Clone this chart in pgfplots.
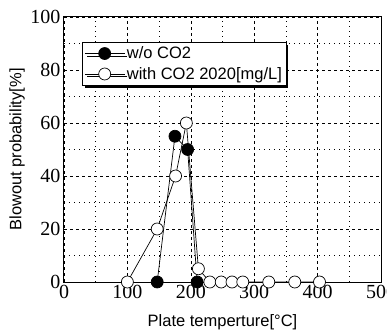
\documentclass[border=0pt]{standalone}
\usepackage{pgfplots}
\pgfplotsset{compat=1.18}
\usepackage{fontspec}
\setmainfont{Liberation Serif}
\setsansfont{Liberation Sans}
\usetikzlibrary{shadows}
\begin{document}
\begin{tikzpicture}
\begin{axis}[
  at={(0,0)}, anchor=south west,
  scale only axis, width=317pt, height=265pt,
  xmin=0, xmax=500, ymin=0, ymax=100,
  xtick={0,100,...,500}, ytick={0,20,...,100},
  minor xtick={50,150,...,450}, minor ytick={10,30,...,90},
  grid=both,
  major grid style={black, dashed, line width=0.6pt, dash pattern=on 3pt off 3pt},
  minor grid style={black, line width=0.6pt, dash pattern=on 0.8pt off 4.2pt},
  major tick length=0pt, minor tick length=0pt,
  axis line style={line width=1pt},
  /pgf/number format/assume math mode=true,
  tick label style={font=\fontsize{20}{20}\selectfont},
  xlabel={Plate temperture[\textdegree C]},
  ylabel={Blowout probability[\%]},
  every axis x label/.style={at={(axis description cs:0.5,-0.151)}, anchor=center, font=\sffamily\fontsize{16.5}{16.5}\selectfont},
  every axis y label/.style={at={(axis description cs:-0.148,0.5)}, rotate=90, anchor=center, font=\sffamily\fontsize{16.5}{16.5}\selectfont},
  legend style={at={(axis description cs:0.057,0.906)}, anchor=north west,
    draw=black, line width=0.8pt, fill=white,
    drop shadow={shadow xshift=2.5pt, shadow yshift=-2.5pt, opacity=1, fill=black},
    font=\sffamily\fontsize{16.5}{16.5}\selectfont,
    inner xsep=2pt, inner ysep=2.5pt, row sep=3pt,
    /tikz/every even column/.append style={column sep=0pt}},
  legend cell align=left,
  legend image code/.code={\draw[mark repeat=2,mark phase=2,#1,line width=0.6pt] plot coordinates {(0cm,0cm) (0.7cm,0cm) (1.4cm,0cm)};},
  reverse legend,
]
\addplot[black, line width=0.7pt, mark=*, mark size=6pt, mark options={fill=white, line width=0.7pt}]
  coordinates {(100,0) (147,20) (176,40) (193,60) (212,5) (230,0) (248,0) (265,0) (282,0) (323,0) (364,0) (403,0)};
\addlegendentry{with CO2 2020[mg/L]}
\addplot[black, line width=0.7pt, mark=*, mark size=6pt, mark options={fill=black, line width=0.7pt}]
  coordinates {(147,0) (175,55) (195,50) (210,0)};
\addlegendentry{w/o CO2}
\end{axis}
\pgfresetboundingbox
\path[use as bounding box] (-64pt,-49pt) rectangle (323pt,282pt);
\end{tikzpicture}
\end{document}
